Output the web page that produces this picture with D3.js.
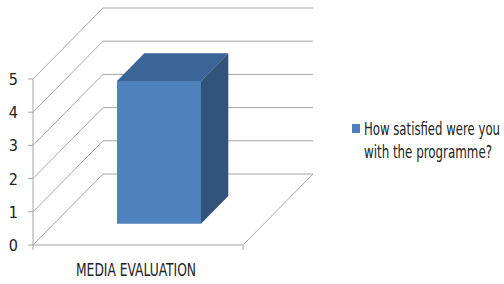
<!DOCTYPE html>
<html>
<head>
<meta charset="utf-8">
<script src="https://cdn.jsdelivr.net/npm/d3@7/dist/d3.min.js"></script>
<style>
  html, body { margin: 0; padding: 0; background: #fff; }
  text { font-family: "Liberation Sans Narrow", "DejaVu Sans Condensed", "Liberation Sans", sans-serif; fill: #222; }
</style>
</head>
<body>
<svg id="chart" width="504" height="284"></svg>
<script>
  // chart data
  var categories = ["MEDIA EVALUATION"];
  var seriesNames = ["How satisfied were you", "with the programme?"];
  var values = [4.3];
  var tickValues = [0, 1, 2, 3, 4, 5];

  var svg = d3.select("#chart");

  // front plane geometry
  var x0 = 33, plotW = 210;
  var depthX = 70, depthY = -71;

  var y = d3.scaleLinear().domain([0, 5]).range([245, 79]);
  var x = d3.scaleBand().domain(categories).range([x0, x0 + plotW])
    .paddingInner(0.6).paddingOuter(0.3);
  // depth fraction -> offset
  var dx = d3.scaleLinear().domain([0, 1]).range([0, depthX]);
  var dy = d3.scaleLinear().domain([0, 1]).range([0, depthY]);

  var grid = svg.append("g").attr("stroke", "#a6a6a6").attr("stroke-width", 1).attr("fill", "none");

  // back wall horizontal lines
  grid.selectAll("line.back").data(tickValues).enter().append("line")
    .attr("x1", x0 + dx(1)).attr("x2", x0 + plotW + dx(1))
    .attr("y1", function(d){ return y(d) + dy(1); })
    .attr("y2", function(d){ return y(d) + dy(1); });

  // side wall diagonals
  grid.selectAll("line.side").data(tickValues).enter().append("line")
    .attr("x1", x0).attr("x2", x0 + dx(1))
    .attr("y1", function(d){ return y(d); })
    .attr("y2", function(d){ return y(d) + dy(1); });

  // floor: front edge and right diagonal
  grid.append("line").attr("x1", x0).attr("x2", x0 + plotW).attr("y1", y(0)).attr("y2", y(0));
  grid.append("line").attr("x1", x0 + plotW).attr("x2", x0 + plotW + dx(1))
    .attr("y1", y(0)).attr("y2", y(0) + dy(1));

  // y axis line and ticks
  grid.append("line").attr("x1", x0).attr("x2", x0).attr("y1", y(5)).attr("y2", y(0) + 5);
  grid.selectAll("line.ytick").data(tickValues).enter().append("line")
    .attr("x1", x0 - 5).attr("x2", x0)
    .attr("y1", function(d){ return y(d); }).attr("y2", function(d){ return y(d); });
  grid.append("line").attr("x1", x0 + plotW).attr("x2", x0 + plotW).attr("y1", y(0)).attr("y2", y(0) + 5);

  svg.append("g").selectAll("text").data(tickValues).enter().append("text")
    .attr("x", 18).attr("y", function(d){ return y(d) + 6; })
    .attr("text-anchor", "end").attr("font-size", 16)
    .text(function(d){ return d; });

  // 3d bar
  var dFront = 0.3, dBack = 0.69;
  var bars = svg.append("g");
  categories.forEach(function(c, i){
    var xl = x(c), xr = x(c) + x.bandwidth();
    var v = values[i];
    var fx = dx(dFront), fy = dy(dFront), bx = dx(dBack), by = dy(dBack);
    var pt = function(px, val, ox, oy){ return [px + ox, y(val) + oy]; };
    var line = d3.line();
    // top
    bars.append("path").attr("fill", "#3b6497")
      .attr("d", line([pt(xl, v, fx, fy), pt(xl, v, bx, by), pt(xr, v, bx, by), pt(xr, v, fx, fy)]) + "Z");
    // side
    bars.append("path").attr("fill", "#31537c")
      .attr("d", line([pt(xr, v, fx, fy), pt(xr, v, bx, by), pt(xr, 0, bx, by), pt(xr, 0, fx, fy)]) + "Z");
    // front
    bars.append("path").attr("fill", "#4f81bd")
      .attr("d", line([pt(xl, v, fx, fy), pt(xr, v, fx, fy), pt(xr, 0, fx, fy), pt(xl, 0, fx, fy)]) + "Z");
  });

  // category label
  svg.append("text").attr("x", 136).attr("y", 276).attr("text-anchor", "middle")
    .attr("font-size", 17).attr("textLength", 120).attr("lengthAdjust", "spacingAndGlyphs")
    .text(categories[0]);

  // legend (narrow font stretched vertically, like the original)
  var legend = svg.append("g");
  legend.append("rect").attr("x", 352).attr("y", 124).attr("width", 8).attr("height", 9).attr("fill", "#4f81bd");
  legend.append("text").attr("transform", "translate(364,135) scale(1,1.25)").attr("font-size", 13.5)
    .attr("textLength", 136).attr("lengthAdjust", "spacingAndGlyphs").text(seriesNames[0]);
  legend.append("text").attr("transform", "translate(364,158) scale(1,1.25)").attr("font-size", 13.5)
    .attr("textLength", 128).attr("lengthAdjust", "spacingAndGlyphs").text(seriesNames[1]);
</script>
</body>
</html>
